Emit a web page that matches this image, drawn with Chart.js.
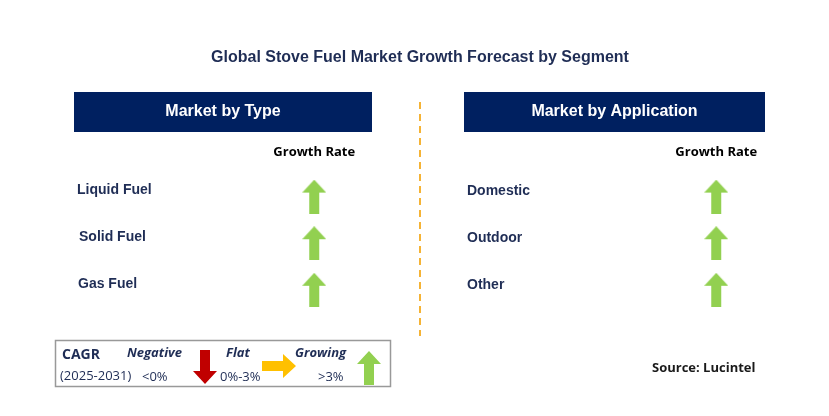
<!DOCTYPE html>
<html><head><meta charset="utf-8">
<script src="https://cdn.jsdelivr.net/npm/chart.js@4"></script>
<style>html,body{margin:0;padding:0;background:#fff}#c{display:block}</style>
</head><body>
<div style="width:829px;height:416px"><canvas id="c" width="829" height="416"></canvas></div>
<script>
const title = "Global Stove Fuel Market Growth Forecast by Segment";
const panels = ["Market by Type", "Market by Application"];
const typeCategories = ["Liquid Fuel", "Solid Fuel", "Gas Fuel"];
const appCategories = ["Domestic", "Outdoor", "Other"];
const typeGrowth = ["Growing", "Growing", "Growing"];
const appGrowth = ["Growing", "Growing", "Growing"];
const colHeader = "Growth Rate";
const source = "Source: Lucintel";

function arrowImg(kind){
  const c=document.createElement('canvas');
  if(kind==='Growing'){
    c.width=24;c.height=34;const g=c.getContext('2d');
    g.fillStyle='#92d050';g.beginPath();
    g.moveTo(12,0);g.lineTo(24,13);g.lineTo(17,13);g.lineTo(17,34);g.lineTo(7,34);g.lineTo(7,13);g.lineTo(0,13);g.closePath();g.fill();
  } else if(kind==='Negative'){
    c.width=24;c.height=34;const g=c.getContext('2d');
    g.fillStyle='#c00000';g.beginPath();
    g.moveTo(12,34);g.lineTo(24,21);g.lineTo(17,21);g.lineTo(17,0);g.lineTo(7,0);g.lineTo(7,21);g.lineTo(0,21);g.closePath();g.fill();
  } else {
    c.width=34;c.height=24;const g=c.getContext('2d');
    g.fillStyle='#ffc000';g.beginPath();
    g.moveTo(34,12);g.lineTo(21,0);g.lineTo(21,7);g.lineTo(0,7);g.lineTo(0,17);g.lineTo(21,17);g.lineTo(21,24);g.closePath();g.fill();
  }
  return c;
}
const imgs={Growing:arrowImg('Growing'),Negative:arrowImg('Negative'),Flat:arrowImg('Flat')};

const pts=[];
typeGrowth.forEach((g,i)=>pts.push({x:0,y:i,g}));
appGrowth.forEach((g,i)=>pts.push({x:1,y:i,g}));

const navy='#002060', textc='#1f2d55';
const deco={id:'deco',afterDraw(ch){
  const g=ch.ctx, xs=ch.scales.x, ys=ch.scales.y;
  g.save();
  g.textBaseline='middle';
  g.fillStyle=textc;g.font='bold 16px "Liberation Sans", Arial';g.textAlign='center';
  g.fillText(title,420,58);
  const boxes=[[74,298],[464,301]];
  panels.forEach((p,i)=>{
    g.fillStyle=navy;g.fillRect(boxes[i][0],92,boxes[i][1],40);
    g.fillStyle='#fff';g.font='bold 16px "Liberation Sans", Arial';g.textAlign='center';
    g.fillText(p,boxes[i][0]+boxes[i][1]/2,112);
    g.fillStyle='#000';g.font='bold 13px "Open Sans", "Liberation Sans"';
    g.fillText(colHeader,xs.getPixelForValue(i),152);
  });
  g.textAlign='left';g.font='bold 14px "Liberation Sans", Arial';g.fillStyle=textc;
  typeCategories.forEach((c,i)=>g.fillText(c,[77,79,78][i],ys.getPixelForValue(i)-6));
  appCategories.forEach((c,i)=>g.fillText(c,467,ys.getPixelForValue(i)-5));
  g.strokeStyle='#f5b335';g.lineWidth=2;g.setLineDash([7,5]);
  g.beginPath();g.moveTo(420,102);g.lineTo(420,336);g.stroke();g.setLineDash([]);
  g.strokeStyle='#999';g.lineWidth=1.5;g.strokeRect(55.5,340.5,335,46);
  g.fillStyle=textc;g.font='bold 14px "Open Sans", "Liberation Sans"';
  g.fillText('CAGR',62,355);
  g.font='13px "Open Sans", "Liberation Sans"';g.fillText('(2025-2031)',60,376);
  g.font='italic bold 13px "Open Sans", "Liberation Sans"';
  g.fillText('Negative',127,353);g.fillText('Flat',226,353);g.fillText('Growing',295,353);
  g.font='13px "Open Sans", "Liberation Sans"';
  g.fillText('<0%',142,377);g.fillText('0%-3%',220,377);g.fillText('>3%',318,377);
  g.drawImage(imgs.Negative,193,350);
  g.drawImage(imgs.Flat,262,354);
  g.drawImage(imgs.Growing,357,351);
  g.font='bold 13px "Open Sans", "Liberation Sans"';g.fillStyle='#1a1a1a';
  g.fillText(source,652,368);
  g.restore();
}};

const yRange = 416/46.5*43.5/46.5;
new Chart(document.getElementById('c'),{
  type:'scatter',
  data:{datasets:[{data:pts,pointStyle:pts.map(p=>imgs[p.g]),radius:12}]},
  options:{responsive:false,animation:false,events:[],
    layout:{padding:0},
    plugins:{legend:{display:false},tooltip:{enabled:false}},
    scales:{
      x:{type:'linear',display:false,min:-311/415,max:829/415-311/415},
      y:{type:'linear',display:false,reverse:true,min:-3.94,max:-3.94+yRange}
    }},
  plugins:[deco]
});
</script>
</body></html>
